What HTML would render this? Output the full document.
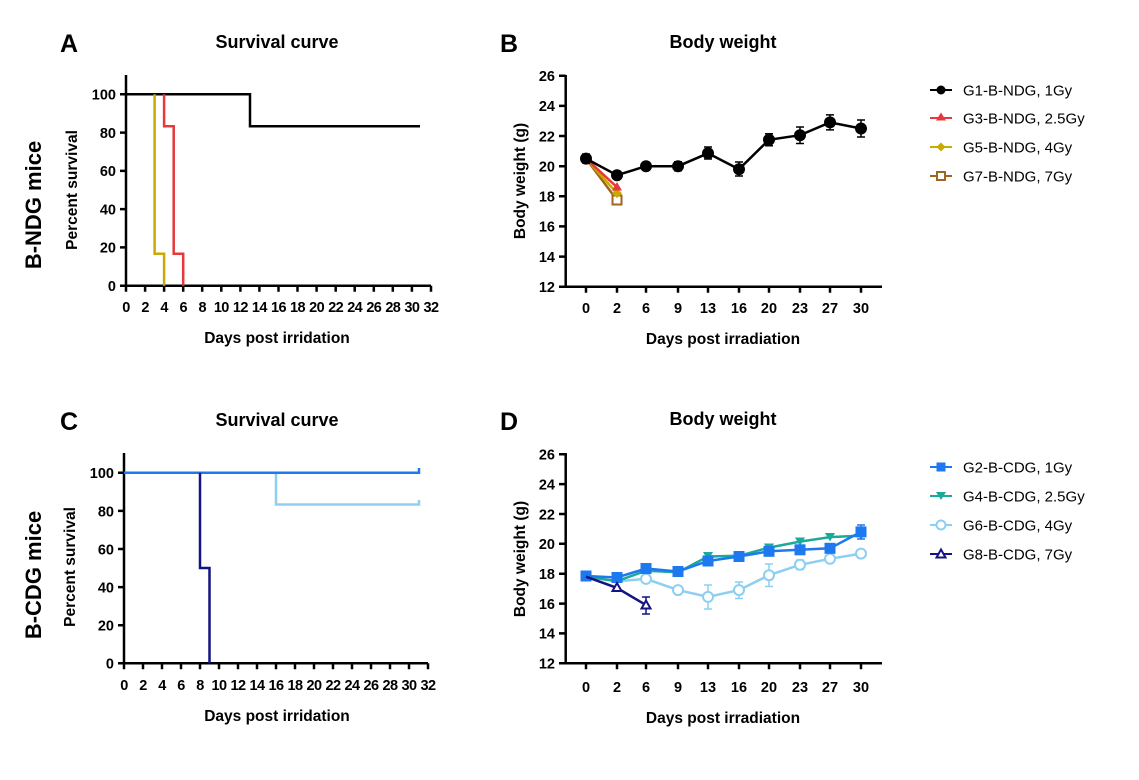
<!DOCTYPE html>
<html><head><meta charset="utf-8"><style>
html,body{margin:0;padding:0;background:#fff}
svg{display:block;font-family:"Liberation Sans",Arial,sans-serif}
.t{font-size:14.5px;font-weight:bold}
.tx{font-size:14.5px;font-weight:bold;letter-spacing:-0.6px}
.ax{stroke:#000;stroke-width:2.5;fill:none}
</style></head><body>
<svg width="1139" height="780" viewBox="0 0 1139 780">
<g font-weight="bold">
<text x="60" y="52" font-size="25">A</text>
<text x="500" y="52" font-size="25">B</text>
<text x="60" y="430" font-size="25">C</text>
<text x="500" y="430" font-size="25">D</text>
<text x="277" y="48" font-size="18" text-anchor="middle">Survival curve</text>
<text x="723" y="48" font-size="18" text-anchor="middle">Body weight</text>
<text x="277" y="426" font-size="18" text-anchor="middle">Survival curve</text>
<text x="723" y="425" font-size="18" text-anchor="middle">Body weight</text>
<text x="277" y="343" font-size="15.5" text-anchor="middle">Days post irridation</text>
<text x="277" y="721" font-size="15.5" text-anchor="middle">Days post irridation</text>
<text x="723" y="344" font-size="15.5" text-anchor="middle">Days post irradiation</text>
<text x="723" y="723" font-size="15.5" text-anchor="middle">Days post irradiation</text>
<text transform="translate(77,190) rotate(-90)" font-size="15.5" text-anchor="middle">Percent survival</text>
<text transform="translate(75,567) rotate(-90)" font-size="15.5" text-anchor="middle">Percent survival</text>
<text transform="translate(525,181) rotate(-90)" font-size="15.5" text-anchor="middle">Body weight (g)</text>
<text transform="translate(525,559) rotate(-90)" font-size="15.5" text-anchor="middle">Body weight (g)</text>
<text transform="translate(41,205) rotate(-90)" font-size="22" text-anchor="middle">B-NDG mice</text>
<text transform="translate(41,575) rotate(-90)" font-size="22" text-anchor="middle">B-CDG mice</text>
</g>

<!-- Panel A axes -->
<path class="ax" d="M126,75 V285.7 H431"/>
<path class="ax" d="M120,285.7H126M120,247.4H126M120,209.1H126M120,170.9H126M120,132.6H126M120,94.3H126
M126,285.7v6M145.1,285.7v6M164.1,285.7v6M183.2,285.7v6M202.2,285.7v6M221.3,285.7v6M240.4,285.7v6M259.4,285.7v6M278.5,285.7v6M297.5,285.7v6M316.6,285.7v6M335.7,285.7v6M354.7,285.7v6M373.8,285.7v6M392.8,285.7v6M411.9,285.7v6M431,285.7v6"/>
<g class="t" text-anchor="end">
<text x="116" y="291">0</text><text x="116" y="252.5">20</text><text x="116" y="214.5">40</text><text x="116" y="176">60</text><text x="116" y="138">80</text><text x="116" y="99.5">100</text>
</g>
<g class="tx" text-anchor="middle">
<text x="126" y="312">0</text><text x="145.1" y="312">2</text><text x="164.1" y="312">4</text><text x="183.2" y="312">6</text><text x="202.2" y="312">8</text><text x="221.3" y="312">10</text><text x="240.4" y="312">12</text><text x="259.4" y="312">14</text><text x="278.5" y="312">16</text><text x="297.5" y="312">18</text><text x="316.6" y="312">20</text><text x="335.7" y="312">22</text><text x="354.7" y="312">24</text><text x="373.8" y="312">26</text><text x="392.8" y="312">28</text><text x="411.9" y="312">30</text><text x="431" y="312">32</text>
</g>
<path d="M126,94.3 H250 V126.2 H420" stroke="#000" stroke-width="2.5" fill="none"/>
<path d="M164.1,94.3 V126.2 H173.7 V253.7 H183.2 V285.7" stroke="#e8383d" stroke-width="2.5" fill="none"/>
<path d="M154.6,94.3 V253.7 H164.1 V285.7" stroke="#c8aa00" stroke-width="2.5" fill="none"/>

<!-- Panel C axes -->
<path class="ax" d="M124,453 V663.3 H428"/>
<path class="ax" d="M118,663.3H124M118,625.2H124M118,587.1H124M118,549H124M118,510.9H124M118,472.7H124
M124,663.3v6M143,663.3v6M162,663.3v6M181,663.3v6M200,663.3v6M219,663.3v6M238,663.3v6M257,663.3v6M276,663.3v6M295,663.3v6M314,663.3v6M333,663.3v6M352,663.3v6M371,663.3v6M390,663.3v6M409,663.3v6M428,663.3v6"/>
<g class="t" text-anchor="end">
<text x="114" y="668.5">0</text><text x="114" y="630.5">20</text><text x="114" y="592.5">40</text><text x="114" y="554.5">60</text><text x="114" y="516.5">80</text><text x="114" y="478">100</text>
</g>
<g class="tx" text-anchor="middle">
<text x="124" y="690">0</text><text x="143" y="690">2</text><text x="162" y="690">4</text><text x="181" y="690">6</text><text x="200" y="690">8</text><text x="219" y="690">10</text><text x="238" y="690">12</text><text x="257" y="690">14</text><text x="276" y="690">16</text><text x="295" y="690">18</text><text x="314" y="690">20</text><text x="333" y="690">22</text><text x="352" y="690">24</text><text x="371" y="690">26</text><text x="390" y="690">28</text><text x="409" y="690">30</text><text x="428" y="690">32</text>
</g>
<path d="M276,472.7 V504.5 H419 V500" stroke="#8ccff0" stroke-width="2.5" fill="none"/>
<path d="M124,472.7 H419 V468" stroke="#1e78f0" stroke-width="2.5" fill="none"/>
<path d="M200,472.7 V568 H209.5 V663.3" stroke="#141482" stroke-width="2.5" fill="none"/>

<!-- Panel B axes -->
<path class="ax" d="M565.7,75 V286.7 H882"/>
<path class="ax" d="M559,286.7H565.7M559,256.6H565.7M559,226.4H565.7M559,196.3H565.7M559,166.2H565.7M559,136H565.7M559,105.9H565.7M559,75.8H565.7
M586,286.7v6M617,286.7v6M646,286.7v6M678,286.7v6M708,286.7v6M739,286.7v6M769,286.7v6M800,286.7v6M830,286.7v6M861,286.7v6"/>
<g class="t" text-anchor="end">
<text x="555" y="292">12</text><text x="555" y="262">14</text><text x="555" y="231.5">16</text><text x="555" y="201.5">18</text><text x="555" y="171.5">20</text><text x="555" y="141.5">22</text><text x="555" y="111">24</text><text x="555" y="81">26</text>
</g>
<g class="t" text-anchor="middle">
<text x="586" y="313">0</text><text x="617" y="313">2</text><text x="646" y="313">6</text><text x="678" y="313">9</text><text x="708" y="313">13</text><text x="739" y="313">16</text><text x="769" y="313">20</text><text x="800" y="313">23</text><text x="830" y="313">27</text><text x="861" y="313">30</text>
</g>
<path d="M586,158.6 L617,200" stroke="#a0651e" stroke-width="2.5" fill="none"/>
<path d="M586,158.6 L617,193.3" stroke="#c8aa00" stroke-width="2.5" fill="none"/>
<path d="M586,158.6 L617,187.2" stroke="#e8383d" stroke-width="2.5" fill="none"/>
<rect x="612.5" y="195.5" width="9" height="9" fill="#fff" stroke="#a0651e" stroke-width="2"/>
<path d="M617,188.5 l5,4.8 -5,4.8 -5,-4.8z" fill="#c8aa00"/>
<path d="M617,182 l5,8.5 h-10z" fill="#e8383d"/>
<g stroke="#000" stroke-width="1.5" fill="none">
<path d="M586,154v9M582,154h8M582,163h8 M617,171v8 M708,147v12M704,147h8M704,159h8 M739,162v14M735,162h8M735,176h8 M769,133.8v12M765,133.8h8M765,145.8h8 M800,127v16.5M796,127h8M796,143.5h8 M830,114.9v15M826,114.9h8M826,129.9h8 M861,120v17M857,120h8M857,137h8 M678,161.7v9M674,161.7h8M674,170.7h8"/>
</g>
<polyline points="586,158.6 617,175.2 646,166.2 678,166.2 708,153.3 739,169.2 769,139.8 800,135.2 830,122.4 861,128.5" stroke="#000" stroke-width="2.5" fill="none"/>
<g fill="#000">
<circle cx="586" cy="158.6" r="6"/><circle cx="617" cy="175.2" r="6"/><circle cx="646" cy="166.2" r="6"/><circle cx="678" cy="166.2" r="6"/><circle cx="708" cy="153.3" r="6"/><circle cx="739" cy="169.2" r="6"/><circle cx="769" cy="139.8" r="6"/><circle cx="800" cy="135.2" r="6"/><circle cx="830" cy="122.4" r="6"/><circle cx="861" cy="128.5" r="6"/>
</g>

<!-- Panel D axes -->
<path class="ax" d="M565.7,453 V663.3 H882"/>
<path class="ax" d="M559,663.3H565.7M559,633.4H565.7M559,603.6H565.7M559,573.7H565.7M559,543.8H565.7M559,514H565.7M559,484.1H565.7M559,454.3H565.7
M586,663.3v6M617,663.3v6M646,663.3v6M678,663.3v6M708,663.3v6M739,663.3v6M769,663.3v6M800,663.3v6M830,663.3v6M861,663.3v6"/>
<g class="t" text-anchor="end">
<text x="555" y="668.5">12</text><text x="555" y="638.5">14</text><text x="555" y="609">16</text><text x="555" y="579">18</text><text x="555" y="549">20</text><text x="555" y="519.5">22</text><text x="555" y="489.5">24</text><text x="555" y="459.5">26</text>
</g>
<g class="t" text-anchor="middle">
<text x="586" y="692">0</text><text x="617" y="692">2</text><text x="646" y="692">6</text><text x="678" y="692">9</text><text x="708" y="692">13</text><text x="739" y="692">16</text><text x="769" y="692">20</text><text x="800" y="692">23</text><text x="830" y="692">27</text><text x="861" y="692">30</text>
</g>
<g stroke="#8ccff0" stroke-width="1.5" fill="none">
<path d="M708,585v24M704,585h8M704,609h8 M739,582v16.5M735,582h8M735,598.5h8 M769,564v22.5M765,564h8M765,586.5h8 M800,560v9.5M796,560h8M796,569.5h8 M646,574v9.5"/>
</g>
<polyline points="586,576.7 617,581.2 646,578.9 678,590.1 708,596.9 739,590.1 769,575.2 800,564.8 830,558.8 861,553.6" stroke="#8ccff0" stroke-width="2.5" fill="none"/>
<g fill="#fff" stroke="#8ccff0" stroke-width="2">
<circle cx="646" cy="578.9" r="5"/><circle cx="678" cy="590.1" r="5"/><circle cx="708" cy="596.9" r="5"/><circle cx="739" cy="590.1" r="5"/><circle cx="769" cy="575.2" r="5"/><circle cx="800" cy="564.8" r="5"/><circle cx="830" cy="558.8" r="5"/><circle cx="861" cy="553.6" r="5"/>
</g>
<polyline points="586,576.7 617,581.2 646,570.7 678,572.2 708,556.5 739,555.8 769,547.6 800,541.6 830,537.1 861,535.6" stroke="#1aaa99" stroke-width="2.5" fill="none"/>
<g fill="#1aaa99">
<path d="M612,577h10l-5,8.5z"/><path d="M703,552h10l-5,8.5z"/><path d="M734,551.5h10l-5,8.5z"/><path d="M764,543.5h10l-5,8.5z"/><path d="M795,537.5h10l-5,8.5z"/><path d="M825,533h10l-5,8.5z"/><path d="M856,531.5h10l-5,8.5z"/>
</g>
<path d="M861,525v14M857,525h8M857,539h8" stroke="#1e78f0" stroke-width="1.5" fill="none"/>
<polyline points="586,576 617,577.5 646,568.5 678,571.5 708,561 739,556.5 769,551.3 800,549.8 830,548.3 861,531.9" stroke="#1e78f0" stroke-width="2.5" fill="none"/>
<g fill="#1e78f0">
<rect x="580.5" y="570.5" width="11" height="11"/><rect x="611.5" y="572" width="11" height="11"/><rect x="640.5" y="563" width="11" height="11"/><rect x="672.5" y="566" width="11" height="11"/><rect x="702.5" y="555.5" width="11" height="11"/><rect x="733.5" y="551" width="11" height="11"/><rect x="763.5" y="545.8" width="11" height="11"/><rect x="794.5" y="544.3" width="11" height="11"/><rect x="824.5" y="542.8" width="11" height="11"/><rect x="855.5" y="526.4" width="11" height="11"/>
</g>
<path d="M646,597v17M642,597h8M642,614h8" stroke="#141482" stroke-width="1.5" fill="none"/>
<polyline points="586,576.7 617,587.9 646,605.1" stroke="#141482" stroke-width="2.5" fill="none"/>
<g fill="#fff" stroke="#141482" stroke-width="2">
<path d="M617,583l4.5,8h-9z"/><path d="M646,600.5l4.5,8h-9z"/>
</g>

<g font-size="15">
<line x1="930" y1="90" x2="952" y2="90" stroke="#000" stroke-width="2"/><circle cx="941" cy="90" r="4.5"/>
<text x="963" y="95.5">G1-B-NDG, 1Gy</text>
<line x1="930" y1="118" x2="952" y2="118" stroke="#e8383d" stroke-width="2"/><path d="M941,112.5l5,8h-10z" fill="#e8383d"/>
<text x="963" y="123.5">G3-B-NDG, 2.5Gy</text>
<line x1="930" y1="147" x2="952" y2="147" stroke="#c8aa00" stroke-width="2"/><path d="M941,142.5l4.5,4.5 -4.5,4.5 -4.5,-4.5z" fill="#c8aa00"/>
<text x="963" y="152.5">G5-B-NDG, 4Gy</text>
<line x1="930" y1="176" x2="952" y2="176" stroke="#a0651e" stroke-width="2"/><rect x="937" y="172" width="8" height="8" fill="#fff" stroke="#a0651e" stroke-width="2"/>
<text x="963" y="181.5">G7-B-NDG, 7Gy</text>
<line x1="930" y1="467" x2="952" y2="467" stroke="#1e78f0" stroke-width="2"/><rect x="936.5" y="462.5" width="9" height="9" fill="#1e78f0"/>
<text x="963" y="472.5">G2-B-CDG, 1Gy</text>
<line x1="930" y1="496" x2="952" y2="496" stroke="#1aaa99" stroke-width="2"/><path d="M936,492h10l-5,8z" fill="#1aaa99"/>
<text x="963" y="501.5">G4-B-CDG, 2.5Gy</text>
<line x1="930" y1="525" x2="952" y2="525" stroke="#8ccff0" stroke-width="2"/><circle cx="941" cy="525" r="4.5" fill="#fff" stroke="#8ccff0" stroke-width="2"/>
<text x="963" y="530.5">G6-B-CDG, 4Gy</text>
<line x1="930" y1="554" x2="952" y2="554" stroke="#141482" stroke-width="2"/><path d="M941,549.5l4.5,8h-9z" fill="#fff" stroke="#141482" stroke-width="2"/>
<text x="963" y="559.5">G8-B-CDG, 7Gy</text>
</g>
</svg>
</body></html>
